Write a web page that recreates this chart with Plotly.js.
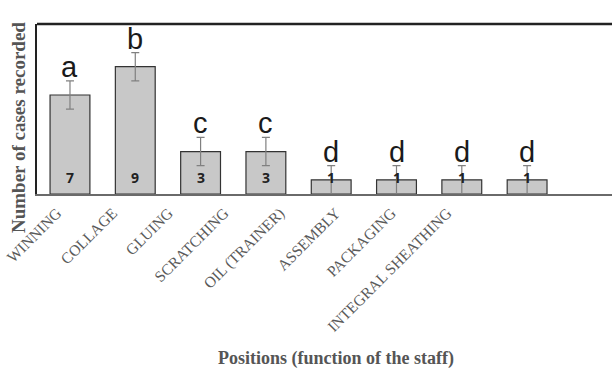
<!DOCTYPE html>
<html>
<head>
<meta charset="utf-8">
<script src="https://cdn.plot.ly/plotly-3.0.1.min.js"></script>
<style>html,body{margin:0;padding:0;background:#fff;}#chart{width:612px;height:372px;}</style>
</head>
<body>
<div id="chart"></div>
<script>
const categories = ["WINNING", "COLLAGE", "GLUING", "SCRATCHING", "OIL (TRAINER)", "ASSEMBLY", "PACKAGING", "INTEGRAL SHEATHING"];
const cases = [7, 9, 3, 3, 1, 1, 1, 1];
const errors = [1, 1, 1, 1, 1, 1, 1, 1];
const groupLetters = ["a", "b", "c", "c", "d", "d", "d", "d"];
const xTitle = "Positions (function of the staff)";
const yTitle = "Number of cases recorded";

const idx = categories.map((_, i) => i);

const trace = {
  type: "bar",
  x: categories,
  y: cases,
  width: 0.61,
  marker: {color: "#c8c8c8", line: {color: "#333333", width: 1.2}},
  error_y: {type: "data", array: errors, visible: true, color: "#808080", thickness: 1.2, width: 4},
  hoverinfo: "skip"
};
// helper trace (invisible) so the label axis (slightly tighter spacing, as in the original) is drawn
const labelTrace = {
  type: "scatter", mode: "markers", x: idx, y: cases, xaxis: "x2", yaxis: "y",
  marker: {opacity: 0}, hoverinfo: "skip"
};

const annotations = [];
categories.forEach((c, i) => {
  annotations.push({
    x: c, y: cases[i] + errors[i], xref: "x", yref: "y",
    text: groupLetters[i], showarrow: false, yanchor: "bottom", yshift: -4,
    font: {family: "Liberation Sans, Arial", size: 29, color: "#1a1a1a"}
  });
  annotations.push({
    x: c, y: 1, xref: "x", yref: "y",
    text: "<b>" + cases[i] + "</b>", showarrow: false, yanchor: "middle", yshift: 2,
    font: {family: "Open Sans, DejaVu Sans", size: 14, color: "#222222"}
  });
});
annotations.push({
  x: 0.52, y: 0, xref: "paper", yref: "paper", yanchor: "middle", yshift: -164,
  text: "<b>" + xTitle + "</b>", showarrow: false,
  font: {family: "Liberation Serif, Times New Roman", size: 18, color: "#555555"}
});
annotations.push({
  x: 0, y: 0.5, xref: "paper", yref: "paper", xanchor: "center", xshift: -19, yshift: -19,
  text: "<b>" + yTitle + "</b>", showarrow: false, textangle: -90,
  font: {family: "Liberation Serif, Times New Roman", size: 19, color: "#555555"}
});

const layout = {
  width: 612, height: 372,
  margin: {l: 37, r: 0, t: 24, b: 178, pad: 0},
  paper_bgcolor: "#ffffff", plot_bgcolor: "#ffffff",
  showlegend: false,
  xaxis: {
    type: "category", range: [-0.505, 8.3],
    showline: true, linecolor: "#6a6a6a", linewidth: 2,
    showgrid: false, ticks: "", showticklabels: false,
    zeroline: false
  },
  xaxis2: {
    overlaying: "x", anchor: "y", side: "bottom",
    range: [-0.36, 9.96], tickmode: "array", tickvals: idx, ticktext: categories,
    showline: false, showgrid: false, zeroline: false, ticks: "", tickangle: -45,
    ticklabelstandoff: 6,
    tickfont: {family: "Liberation Serif, Times New Roman", size: 15.5, color: "#5a5a5a"}
  },
  yaxis: {
    range: [0, 12.02], showline: true, linecolor: "#222222", linewidth: 2,
    showgrid: false, showticklabels: false, ticks: "", zeroline: false
  },
  shapes: [{type: "line", xref: "paper", yref: "paper", x0: 0, x1: 1, y0: 1, y1: 1,
            line: {color: "#222222", width: 2.5}}],
  annotations: annotations
};

Plotly.newPlot("chart", [trace, labelTrace], layout, {staticPlot: true, displayModeBar: false});
</script>
</body>
</html>
